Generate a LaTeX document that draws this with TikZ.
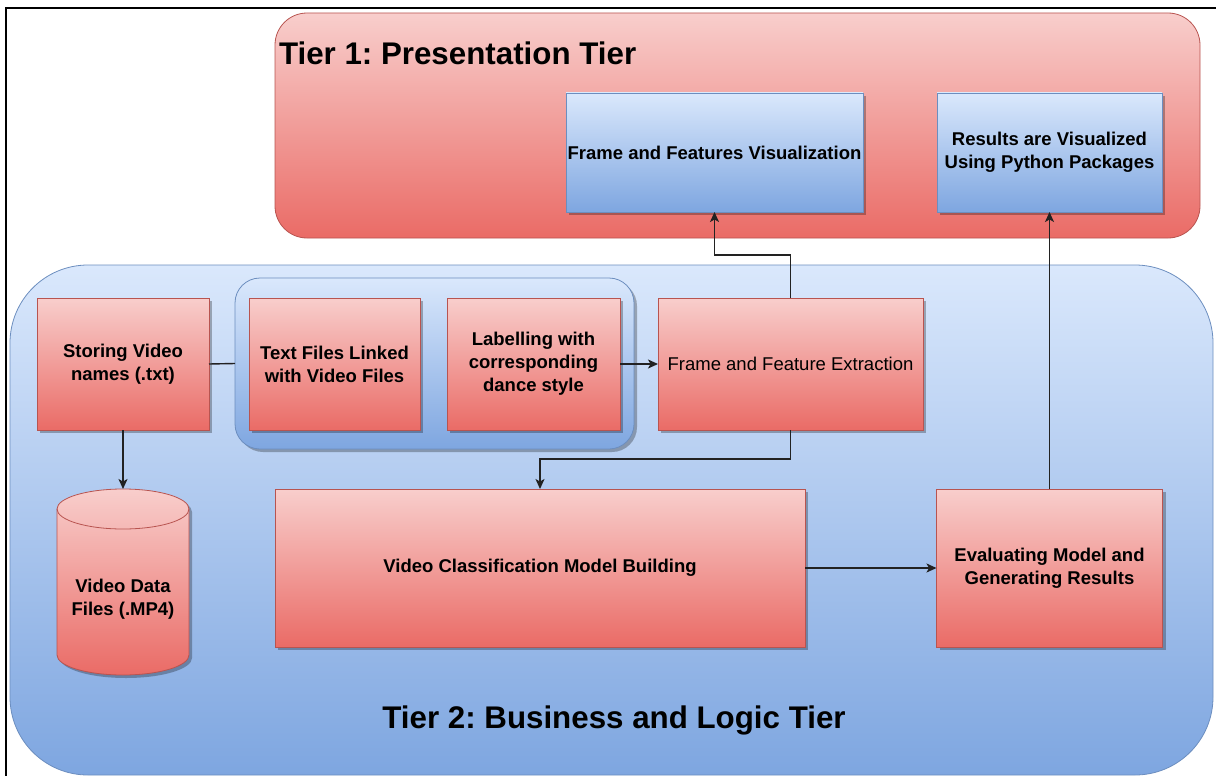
\documentclass[tikz,border=0pt]{standalone}
\usepackage{fontspec}
\setmainfont{Liberation Sans}
\usetikzlibrary{arrows.meta,shadows}
\frenchspacing

\definecolor{redtop}{HTML}{F8CECC}
\definecolor{redbot}{HTML}{EA6B66}
\definecolor{redline}{HTML}{B85450}
\definecolor{bluetop}{HTML}{DAE8FC}
\definecolor{bluebot}{HTML}{7EA6E0}
\definecolor{blueline}{HTML}{6C8EBF}
\definecolor{wire}{HTML}{222222}

\begin{document}
\begin{tikzpicture}[x=1pt,y=-1pt,
  every node/.style={inner sep=0pt,outer sep=0pt},
  boxtext/.style={align=center,font={\fontsize{18.5}{23}\selectfont\bfseries}},
  plaintext/.style={font={\fontsize{18.5}{23}\selectfont\mdseries}},
  titletext/.style={font={\fontsize{31.3}{36}\selectfont\bfseries}},
  shade/.style={drop shadow={shadow xshift=3pt,shadow yshift=-3pt,fill=black,opacity=0.28}},
  redbox/.style={boxtext,draw=redline,line width=0.8pt,top color=redtop,bottom color=redbot},
  bluebox/.style={boxtext,draw=blueline,line width=0.8pt,top color=bluetop,bottom color=bluebot},
  redtier/.style={draw=redline,line width=0.8pt,top color=redtop,bottom color=redbot},
  bluetier/.style={draw=blueline,line width=0.8pt,top color=bluetop,bottom color=bluebot},
  wireline/.style={draw=wire,line width=1.4pt},
  flow/.style={wireline,-{Stealth[length=10pt,width=9pt,inset=2.5pt]}}
]
\useasboundingbox (0,0) rectangle (1216,776);
\clip (0,0) rectangle (1216,776);

% page frame
\draw[line width=2pt] (6,8) rectangle (1240,800);

% tier containers
\node[redtier,rounded corners=32pt,minimum width=925pt,minimum height=225pt] (tier1) at (737.5,125.5) {};
\node[bluetier,rounded corners=78pt,minimum width=1203pt,minimum height=510pt] (tier2) at (611.5,520) {};

\node[titletext,anchor=base west] (title1) at (279,65) {Tier 1: Presentation Tier};
\node[titletext,anchor=base] (title2) at (614,728) {Tier 2: Business and Logic Tier};

% presentation tier boxes
\node[bluebox,shade,minimum width=297pt,minimum height=119pt] (ffv) at (714.5,152.5) {Frame and Features Visualization};
\node[bluebox,shade,minimum width=225pt,minimum height=119pt] (res) at (1049.5,152.5) {Results are Visualized\\Using Python Packages};

% group of text-file steps
\node[bluetier,shade,rounded corners=25pt,minimum width=399pt,minimum height=171pt] (grp) at (434.5,363.5) {};

% logic tier boxes
\node[redbox,shade,minimum width=172pt,minimum height=132pt] (store) at (123,364) {Storing Video\\names (.txt)};
\node[redbox,shade,minimum width=171pt,minimum height=132pt] (txt) at (334.5,364) {Text Files Linked\\with Video Files};
\node[redbox,shade,minimum width=173pt,minimum height=132pt] (lab) at (533.5,364) {Labelling with\\corresponding\\dance style};
\node[redbox,plaintext,shade,minimum width=265pt,minimum height=132pt] (ext) at (790.5,364) {Frame and Feature Extraction};
\node[redbox,shade,minimum width=530pt,minimum height=158pt] (vcm) at (540,568) {Video Classification Model Building};
\node[redbox,shade,minimum width=226pt,minimum height=158pt] (eval) at (1049.5,568) {Evaluating Model and\\Generating Results};

% video data store (cylinder)
\fill[black,opacity=0.28] (60,512) -- (60,658) arc[start angle=180,end angle=360,x radius=66pt,y radius=20pt]
  -- (192,512) arc[start angle=0,end angle=180,x radius=66pt,y radius=20pt] -- cycle;
\path[draw=redline,line width=0.8pt,top color=redtop,bottom color=redbot]
  (57,509) -- (57,655) arc[start angle=180,end angle=360,x radius=66pt,y radius=20pt]
  -- (189,509) arc[start angle=0,end angle=180,x radius=66pt,y radius=20pt] -- cycle;
\draw[redline,line width=0.8pt] (57,509) arc[start angle=180,end angle=360,x radius=66pt,y radius=20pt];
\node[minimum width=132pt,minimum height=186pt] (db) at (123,582) {};
\node[boxtext] (dbtext) at (123,599) {Video Data\\Files (.MP4)};

% connectors
\draw[wireline] (store.east) -- (grp.west);
\draw[flow] (store.south) -- (db.north);
\draw[flow] (lab.east) -- (ext.west);
\draw[flow] (ext.north) -- ++(0,-43) -| (ffv.south);
\draw[flow] (ext.south) -- ++(0,29) -| (vcm.north);
\draw[flow] (vcm.east) -- (eval.west);
\draw[flow] (eval.north) -- (res.south);
\end{tikzpicture}
\end{document}
